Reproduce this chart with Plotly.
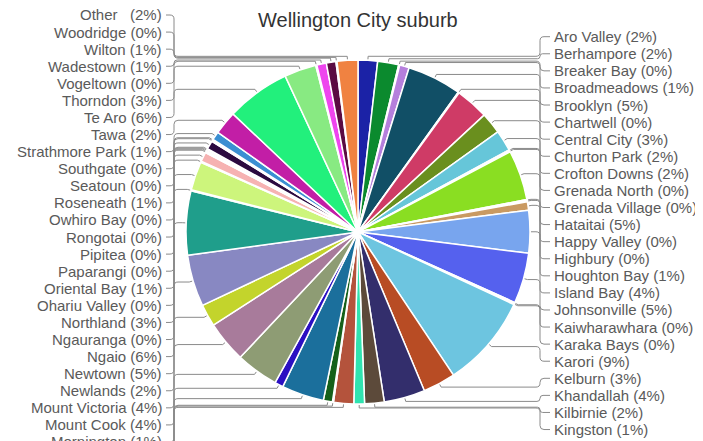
import math
import plotly.graph_objects as go

# ---------------- data ----------------
names = ["Aro Valley", "Berhampore", "Breaker Bay", "Broadmeadows", "Brooklyn", "Chartwell",
         "Central City", "Churton Park", "Crofton Downs", "Grenada North", "Grenada Village",
         "Hataitai", "Happy Valley", "Highbury", "Houghton Bay", "Island Bay", "Johnsonville",
         "Kaiwharawhara", "Karaka Bays", "Karori", "Kelburn", "Khandallah", "Kilbirnie", "Kingston",
         "Lyall Bay", "Makara", "Maupuia", "Miramar", "Mornington", "Mount Cook", "Mount Victoria",
         "Newlands", "Newtown", "Ngaio", "Ngauranga", "Northland", "Ohariu Valley", "Oriental Bay",
         "Paparangi", "Pipitea", "Rongotai", "Owhiro Bay", "Roseneath", "Seatoun", "Southgate",
         "Strathmore Park", "Tawa", "Te Aro", "Thorndon", "Vogeltown", "Wadestown", "Wilton",
         "Woodridge", "Other"]

values = [1.83, 1.97, 0.1, 0.9, 5.1, 0.1, 3.1, 2.0, 1.97, 0.1, 0.1, 4.7, 0.1, 0.1, 0.8, 4.0,
          4.75, 0.1, 0.1, 8.7, 3.06, 3.86, 1.83, 1.0,
          1.89, 0.1, 0.85, 3.97, 0.8, 4.0, 3.9, 2.08, 4.85, 6.0, 0.1, 2.7, 0.1, 0.9, 0.1, 0.1,
          0.1, 0.1, 0.8, 0.1, 0.1, 0.8, 2.2, 6.0, 3.0, 0.1, 0.9, 0.9, 0.1, 1.95]

colors = ["#1b22a6", "#0b8a2e", "#7a3fa0", "#b57fdc", "#114f66", "#999999", "#cf3b66", "#6a8f1e",
          "#66c6d9", "#444444", "#aa8855", "#8ade22", "#333366", "#996633", "#c99a62", "#78a5ee",
          "#5561ee", "#227744", "#aa3355", "#6dc5e0", "#b84c24", "#332e6c", "#5c4a3a", "#30e3b0",
          "#b4533c", "#777777", "#15601a", "#1b6f9c", "#2b10c2", "#8e9c74", "#a87b9b", "#c3d42c",
          "#8888c2", "#1f9e8b", "#555555", "#cdf57c", "#777777", "#f6b2b2", "#888888", "#666666",
          "#999999", "#444444", "#2b0a40", "#557799", "#997755", "#3b8fd2", "#c21ea6", "#22f07c",
          "#88ea82", "#aaaaaa", "#ee45ee", "#5b0b42", "#666666", "#f08241"]

title_text = "Wellington City suburb"

# ---------------- layout constants (page pixel coordinates) ----------------
W, H = 703, 441
OFF = 8                      # default body margin of the html page
FW, FH = W - OFF, H - OFF    # figure size
CX, CY, R = 358, 232, 172
LEFT_TOP, RIGHT_TOP, STEP = 15.0, 36.7, 17.08
FONT = "Liberation Sans, Arial, Helvetica, sans-serif"
LINE_COLOR = "#8a8a8a"
TEXT_COLOR = "#5a5a5a"
LABEL_SIZE = 15
TITLE_SIZE = 20


def px(x):
    return (x - OFF) / FW


def py(y):
    return 1 - (y - OFF) / FH


total = sum(values)
pcts = [round(v / total * 100) for v in values]

mids = []
cum = 0.0
for v in values:
    a0 = cum / total * 360
    cum += v
    a1 = cum / total * 360
    mids.append((a0 + a1) / 2)

right_idx = [i for i, m in enumerate(mids) if m < 180]
left_idx = [i for i, m in enumerate(mids) if m >= 180][::-1]

fig = go.Figure()
fig.add_trace(go.Pie(
    labels=names, values=values, sort=False, direction="clockwise", rotation=0,
    marker=dict(colors=colors, line=dict(color="white", width=1.5)),
    textinfo="none", hoverinfo="label+percent", showlegend=False,
    domain=dict(x=[px(CX - R), px(CX + R)], y=[py(CY + R), py(CY - R)]),
))


def connector(side, yl, theta):
    t = math.radians(theta)
    rx, ry = CX + (R + 1) * math.sin(t), CY - (R + 1) * math.cos(t)
    ex, ey = CX + (R + 4) * math.sin(t), CY - (R + 4) * math.cos(t)
    if side == "right":
        lx, sx, d = 550.0, 540.0, 1
    else:
        lx, sx, d = 166.0, 174.0, -1
    dy = ey - yl
    s = 1 if dy >= 0 else -1
    c = min(4.0, abs(dy) / 2)
    pts = [
        ("M", [(lx, yl)]),
        ("L", [(sx + d * c, yl)]),
        ("Q", [(sx, yl), (sx, yl + s * c)]),
        ("L", [(sx, ey - s * c)]),
        ("Q", [(sx, ey), (sx - d * c, ey)]),
        ("L", [(ex, ey)]),
        ("L", [(rx, ry)]),
    ]
    out = []
    for cmd, pl in pts:
        out.append(cmd + " ".join(f"{px(x):.5f},{py(y):.5f}" for x, y in pl))
    return " ".join(out)


def label_text(i):
    name = names[i]
    if name == "Other":
        name = "Other\u00a0\u00a0"
    return f"{name} ({pcts[i]}%)"


shapes = []
annotations = []
for j, i in enumerate(right_idx):
    yl = RIGHT_TOP + STEP * j
    shapes.append(dict(type="path", xref="paper", yref="paper", path=connector("right", yl, mids[i]),
                       line=dict(color=LINE_COLOR, width=1), layer="above"))
    annotations.append(dict(x=px(552), y=py(yl), xref="paper", yref="paper", xanchor="left",
                            yanchor="middle", text=label_text(i), showarrow=False,
                            font=dict(family=FONT, size=LABEL_SIZE, color=TEXT_COLOR)))
for k, i in enumerate(left_idx):
    yl = LEFT_TOP + STEP * k
    shapes.append(dict(type="path", xref="paper", yref="paper", path=connector("left", yl, mids[i]),
                       line=dict(color=LINE_COLOR, width=1), layer="above"))
    annotations.append(dict(x=px(164), y=py(yl), xref="paper", yref="paper", xanchor="right",
                            yanchor="middle", text=label_text(i), showarrow=False,
                            font=dict(family=FONT, size=LABEL_SIZE, color=TEXT_COLOR)))

annotations.append(dict(x=px(CX), y=py(20), xref="paper", yref="paper", xanchor="center",
                        yanchor="middle", text=title_text, showarrow=False,
                        font=dict(family=FONT, size=TITLE_SIZE, color="#333333")))

fig.update_layout(
    width=FW, height=FH, margin=dict(l=0, r=0, t=0, b=0),
    paper_bgcolor="white", plot_bgcolor="white",
    shapes=shapes, annotations=annotations,
)

fig.write_html("out.html", config={"displayModeBar": False})
